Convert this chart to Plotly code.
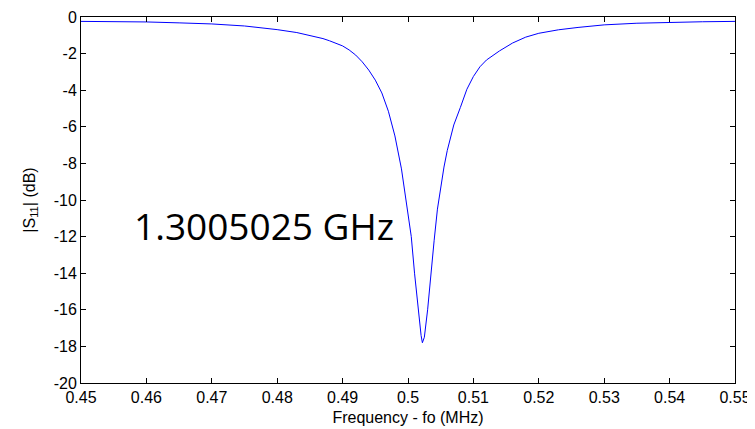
import plotly.graph_objects as go

# Frequency offset (MHz) and |S11| (dB)
freq = [0.450, 0.455, 0.460, 0.465, 0.470, 0.475, 0.478, 0.480, 0.483, 0.485,
        0.487, 0.488, 0.489, 0.490, 0.491, 0.492, 0.493, 0.494, 0.495, 0.496, 0.497,
        0.498, 0.499, 0.4995, 0.500, 0.5005, 0.501, 0.5015, 0.502, 0.5022, 0.5025,
        0.503, 0.5035, 0.504, 0.5045, 0.505, 0.5055, 0.506, 0.507, 0.508, 0.509, 0.510,
        0.511, 0.512, 0.513, 0.514, 0.516, 0.518, 0.520, 0.523, 0.526, 0.530, 0.535,
        0.540, 0.545, 0.550]
s11_db = [-0.24, -0.25, -0.27, -0.32, -0.38, -0.49, -0.60, -0.69, -0.85, -1.00,
          -1.18, -1.30, -1.43, -1.58, -1.80, -2.08, -2.45, -2.90, -3.45, -4.15, -5.15,
          -6.50, -8.30, -9.50, -10.80, -12.00, -14.00, -15.90, -17.40, -17.80, -17.50,
          -16.00, -14.00, -12.20, -10.50, -9.20, -8.20, -7.30, -5.90, -4.95, -3.95, -3.25,
          -2.72, -2.35, -2.08, -1.85, -1.42, -1.10, -0.89, -0.70, -0.57, -0.43, -0.34,
          -0.29, -0.26, -0.24]

x_tickvals = [0.45, 0.46, 0.47, 0.48, 0.49, 0.50, 0.51, 0.52, 0.53, 0.54, 0.55]
x_ticktext = ["0.45", "0.46", "0.47", "0.48", "0.49", "0.5", "0.51", "0.52", "0.53", "0.54", "0.55"]
y_tickvals = [0, -2, -4, -6, -8, -10, -12, -14, -16, -18, -20]
y_ticktext = ["0", "-2", "-4", "-6", "-8", "-10", "-12", "-14", "-16", "-18", "-20"]

annotation_text = "1.3005025 GHz"

FONT = "Liberation Sans, Arial"

fig = go.Figure()
fig.add_trace(go.Scatter(x=freq, y=s11_db, mode="lines",
                         line=dict(color="#0000FF", width=1), showlegend=False,
                         cliponaxis=False))

axis_common = dict(showgrid=False, zeroline=False, showline=True, linecolor="black",
                   linewidth=1, mirror="allticks", ticks="inside", ticklen=5,
                   tickcolor="black", tickwidth=1, automargin=False,
                   ticklabeloverflow="allow",
                   tickfont=dict(family=FONT, size=16, color="black"))

# the page body adds an 8px offset; margins compensate for it
fig.update_layout(
    width=755, height=429,
    margin=dict(l=73, r=28, t=9, b=54),
    paper_bgcolor="white", plot_bgcolor="white",
    xaxis=dict(range=[0.45, 0.55], tickvals=x_tickvals, ticktext=x_ticktext,
               title=dict(text="Frequency - fo (MHz)", standoff=6,
                          font=dict(family=FONT, size=16, color="black")),
               **axis_common),
    yaxis=dict(range=[-20, 0], tickvals=y_tickvals, ticktext=y_ticktext,
               title=dict(text="|S<sub>11</sub>| (dB)", standoff=14,
                          font=dict(family=FONT, size=16, color="black")),
               **axis_common),
    annotations=[dict(x=0.4578, y=-11.4, xref="x", yref="y", text=annotation_text,
                      showarrow=False, xanchor="left", yanchor="middle",
                      font=dict(family="Open Sans", size=37, color="black"))],
)

fig.write_html("out.html")
